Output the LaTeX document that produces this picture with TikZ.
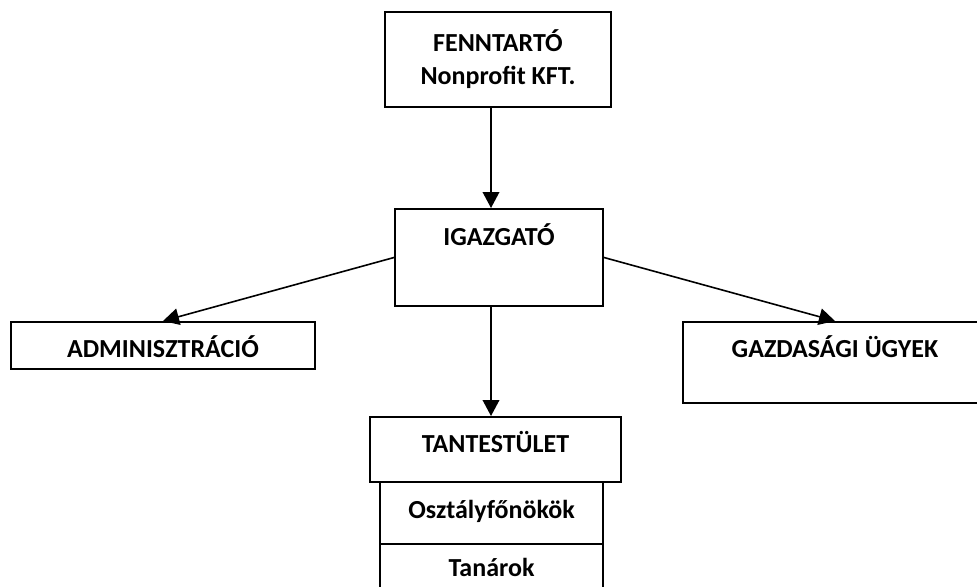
\documentclass[tikz,border=0pt]{standalone}
\usepackage{fontspec}
\setmainfont{Carlito}
\usepackage{tikz}
\usetikzlibrary{arrows.meta}

\begin{document}
\begin{tikzpicture}[x=0.75pt,y=-0.75pt,
  box/.style={draw,rectangle,line width=1.5pt,inner sep=0pt,font=\fontsize{19.5}{24.75}\selectfont\bfseries},
  arr/.style={-{Triangle[length=12pt,width=12.5pt]},line width=1.2pt}]
\useasboundingbox (0,0) rectangle (977,586);
\coordinate (mid) at (491,0);
\node[box,minimum width=169.5pt,minimum height=71.25pt,align=center] (fenn) at (498,59.5) {FENNTARTÓ\\Nonprofit KFT.};
\node[box,minimum width=156pt,text height=27pt,text depth=45.75pt] (igaz) at (499,257.5) {IGAZGATÓ};
\node[box,minimum width=228pt,text height=26.25pt,text depth=9pt] (adm) at (163,345.5) {ADMINISZTRÁCIÓ};
\node[box,minimum width=228pt,text height=26.25pt,text depth=34.5pt] (gaz) at (835,362.5) {GAZDASÁGI ÜGYEK};
\node[box,minimum width=188.25pt,text height=26.25pt,text depth=22.5pt] (tant) at (495.5,449.5) {TANTESTÜLET};
\node[box,minimum width=167.25pt,text height=27pt,text depth=19.5pt] (osz) at (491.5,513) {Osztályfőnökök};
\node[box,minimum width=167.25pt,text height=24pt,text depth=21pt] (tan) at (491.5,574) {Tanárok};
\draw[arr] (fenn.south -| mid) -- (igaz.north -| mid);
\draw[arr] (igaz.west) -- (adm.north);
\draw[arr] (igaz.east) -- (gaz.north);
\draw[arr] (igaz.south -| mid) -- (tant.north -| mid);
\end{tikzpicture}
\end{document}
